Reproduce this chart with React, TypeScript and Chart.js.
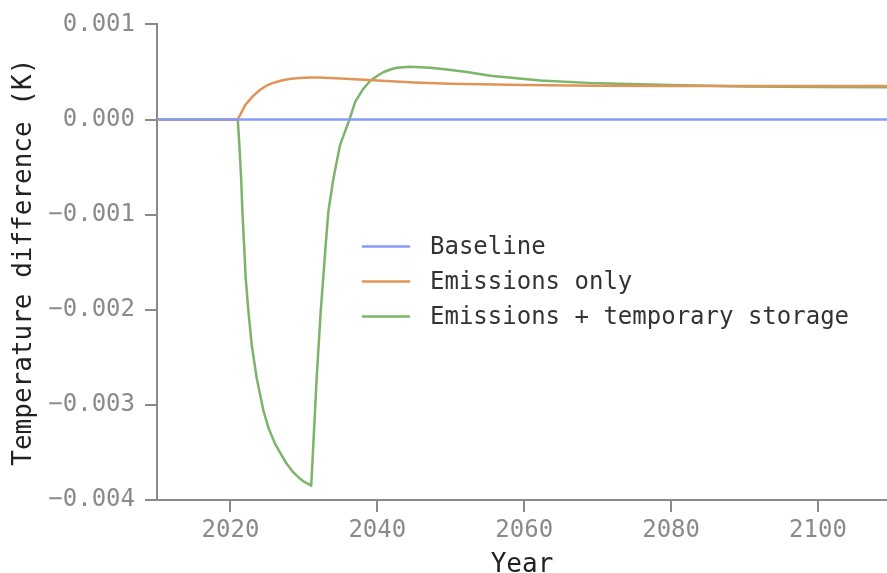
import React, { useEffect, useRef } from "react";
import { Chart, registerables } from "chart.js";

Chart.register(...registerables);

const seriesLabels = ["Baseline", "Emissions only", "Emissions + temporary storage"];

const baselineYears = [2010, 2110];
const baselineValues = [0, 0];

const emissionsYears = [
  2010, 2021, 2022, 2023, 2024, 2025, 2026, 2027, 2028, 2029, 2030, 2031, 2032,
  2035, 2040, 2045, 2050, 2060, 2070, 2080, 2090, 2100, 2110,
];
const emissionsValues = [
  0, 0, 0.00015, 0.00024, 0.00031, 0.00036, 0.00039, 0.00041, 0.000425, 0.000435,
  0.00044, 0.000442, 0.000442, 0.000432, 0.00041, 0.00039, 0.000377, 0.000363,
  0.000356, 0.000353, 0.000352, 0.000352, 0.000352,
];

const storageYears = [
  2010, 2021, 2021.22, 2021.46, 2021.63, 2021.86, 2022.08, 2022.45, 2022.9, 2023.58,
  2024.49, 2025.17, 2026.08, 2026.9, 2027.66, 2028.57, 2029.25, 2030.07, 2030.84,
  2031.0, 2031.29, 2031.74, 2032.29, 2032.97, 2033.33, 2034.01, 2034.9, 2036.2,
  2037.0, 2038.1, 2039.05, 2039.96, 2040.8, 2041.77, 2042.7, 2044.49, 2047.2,
  2049.48, 2052.2, 2055.4, 2062.2, 2070, 2075.8, 2080, 2090, 2100, 2110,
];
const storageValues = [
  0, 0, -0.000275, -0.000625, -0.00097, -0.00132, -0.00167, -0.00202, -0.00237,
  -0.00272, -0.00306, -0.00324, -0.00341, -0.00352, -0.00362, -0.00371, -0.00376,
  -0.00381, -0.00384, -0.00385, -0.00341, -0.00272, -0.00202, -0.00132, -0.00097,
  -0.000625, -0.000275, 0, 0.000188, 0.000324, 0.000408, 0.000457, 0.000497,
  0.000526, 0.000544, 0.000554, 0.000544, 0.000526, 0.000499, 0.00046, 0.00041,
  0.00038, 0.00037, 0.000362, 0.000348, 0.000342, 0.00034,
];

const xTicks = [2020, 2040, 2060, 2080, 2100];
const yTicks = [0.001, 0, -0.001, -0.002, -0.003, -0.004];

const colors = ["rgb(135,155,245)", "rgb(226,148,88)", "rgb(124,180,104)"];

const MONO = '"DejaVu Sans Mono", monospace';

const toPoints = (xs: number[], ys: number[]) => xs.map((x, i) => ({ x, y: ys[i] }));

const insideLegend = {
  id: "insideLegend",
  afterDraw(chart: any) {
    const { ctx, chartArea } = chart;
    const x0 = chartArea.left + 205;
    const y0 = chartArea.top + 222;
    ctx.save();
    ctx.font = `24px ${MONO}`;
    ctx.textBaseline = "middle";
    ctx.textAlign = "left";
    chart.data.datasets.forEach((ds: any, i: number) => {
      const y = y0 + i * 35;
      ctx.strokeStyle = ds.borderColor;
      ctx.lineWidth = 2.5;
      ctx.beginPath();
      ctx.moveTo(x0, y);
      ctx.lineTo(x0 + 48, y);
      ctx.stroke();
      ctx.fillStyle = "#333";
      ctx.fillText(ds.label, x0 + 68, y + 1);
    });
    ctx.restore();
  },
};

export default function App() {
  const ref = useRef<HTMLCanvasElement | null>(null);

  useEffect(() => {
    if (!ref.current) return;
    const chart = new Chart(ref.current, {
      type: "line",
      data: {
        datasets: [
          {
            label: seriesLabels[0],
            data: toPoints(baselineYears, baselineValues),
            borderColor: colors[0],
            borderWidth: 2.5,
            pointRadius: 0,
            tension: 0,
          },
          {
            label: seriesLabels[1],
            data: toPoints(emissionsYears, emissionsValues),
            borderColor: colors[1],
            borderWidth: 2.5,
            pointRadius: 0,
            tension: 0,
          },
          {
            label: seriesLabels[2],
            data: toPoints(storageYears, storageValues),
            borderColor: colors[2],
            borderWidth: 2.5,
            pointRadius: 0,
            tension: 0,
            borderJoinStyle: "round",
          },
        ],
      },
      options: {
        animation: false,
        responsive: false,
        layout: { padding: { top: 22, right: 0, left: 0, bottom: 0 } },
        plugins: { legend: { display: false }, tooltip: { enabled: false } },
        scales: {
          x: {
            type: "linear",
            min: 2010,
            max: 2109.4,
            afterBuildTicks: (s: any) => {
              s.ticks = xTicks.map((v) => ({ value: v }));
            },
            afterFit: (s: any) => {
              s.height = 73;
            },
            ticks: {
              color: "#8a8a8a",
              font: { family: MONO, size: 24 },
              padding: 4,
              maxRotation: 0,
              autoSkip: false,
              callback: (v: any) => String(v),
            },
            grid: {
              display: true,
              drawOnChartArea: false,
              drawTicks: true,
              tickLength: 12,
              color: "#8a8a8a",
              lineWidth: 2,
            },
            border: { display: true, color: "#8a8a8a", width: 2 },
            title: {
              display: true,
              text: "Year",
              color: "#222",
              font: { family: MONO, size: 26, lineHeight: 1.0 },
              padding: { top: 0, bottom: -5 },
            },
          },
          y: {
            type: "linear",
            min: -0.004,
            max: 0.001,
            afterBuildTicks: (s: any) => {
              s.ticks = yTicks.map((v) => ({ value: v }));
            },
            afterFit: (s: any) => {
              s.width = 157;
            },
            ticks: {
              color: "#8a8a8a",
              font: { family: MONO, size: 24 },
              padding: 10,
              autoSkip: false,
              callback: (v: any) => Number(v).toFixed(3).replace("-", "\u2212"),
            },
            grid: {
              display: true,
              drawOnChartArea: false,
              drawTicks: true,
              tickLength: 12,
              color: "#8a8a8a",
              lineWidth: 2,
            },
            border: { display: true, color: "#8a8a8a", width: 2 },
            title: {
              display: true,
              text: "Temperature difference (K)",
              color: "#222",
              font: { family: MONO, size: 26, lineHeight: 1.2 },
              padding: { top: 9, bottom: 0 },
            },
          },
        },
      },
      plugins: [insideLegend],
    });
    return () => chart.destroy();
  }, []);

  return (
    <div style={{ position: "absolute", left: 0, top: 0, width: 887, height: 573, background: "#fff" }}>
      <canvas ref={ref} width={887} height={573} style={{ display: "block" }} />
    </div>
  );
}
